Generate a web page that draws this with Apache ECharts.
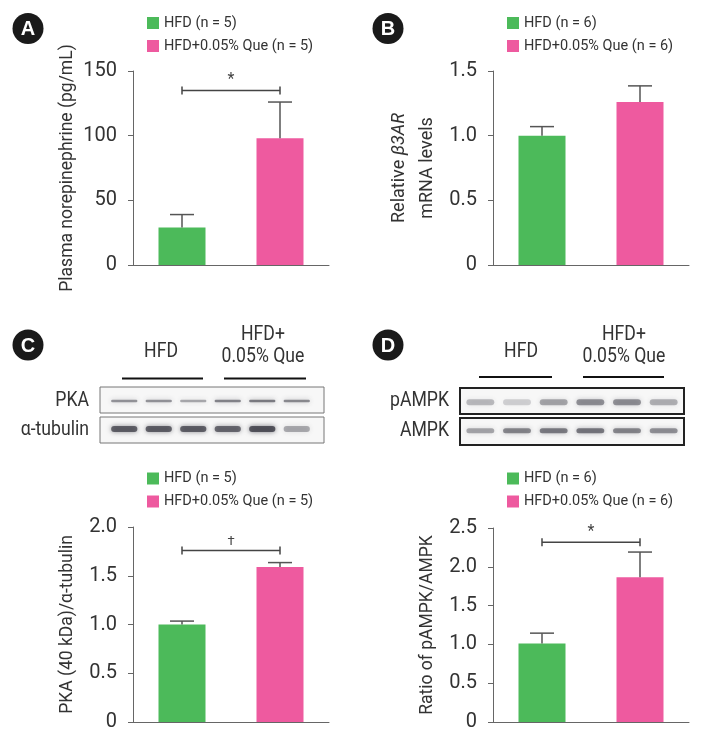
<!DOCTYPE html>
<html><head><meta charset="utf-8">
<script src="https://cdn.jsdelivr.net/npm/echarts@6/dist/echarts.min.js"></script>
<style>html,body{margin:0;padding:0;background:#fff}#c{width:702px;height:743px}</style>
</head><body><div id="c"></div>
<script>
const FONT = "Roboto,'Liberation Sans',sans-serif";
const TXT = '#333';
const GREEN = '#4cba5a';
const PINK = '#ee5a9f';

// ---- data ----
const categories = ['HFD', 'HFD+0.05% Que'];
const legendN5 = ['HFD (n = 5)', 'HFD+0.05% Que (n = 5)'];
const legendN6 = ['HFD (n = 6)', 'HFD+0.05% Que (n = 6)'];

const meanA = [29, 98];      const upperA = [39, 126];
const meanB = [1.0, 1.26];   const upperB = [1.07, 1.385];
const meanC = [1.0, 1.59];   const upperC = [1.035, 1.635];
const meanD = [1.01, 1.865]; const upperD = [1.145, 2.19];

const sigA = [[0, 1, 135]];   const sigLabelA = '*';
const sigC = [[0, 1, 1.76]];  const sigLabelC = '\u2020';
const sigD = [[0, 1, 2.315]]; const sigLabelD = '*';

const axisMax = [150, 1.5, 2.0, 2.5];
const axisStep = [50, 0.5, 0.5, 0.5];

// blot lanes & band intensities (0-1)
const lanes = ['1', '2', '3', '4', '5', '6'];
const blotRows = ['lower', 'upper'];
const pkaBand = [0.5, 0.5, 0.4, 0.58, 0.62, 0.55];
const tubulinBand = [0.75, 0.75, 0.75, 0.7, 0.82, 0.38];
const pampkBand = [0.3, 0.2, 0.4, 0.5, 0.5, 0.35];
const ampkBand = [0.4, 0.55, 0.6, 0.62, 0.55, 0.5];

// ---- layout ----
const grids = [
  {left: 133, top: 71, width: 196, height: 194},
  {left: 493, top: 71, width: 196, height: 194},
  {left: 133, top: 527, width: 196, height: 195},
  {left: 493, top: 528, width: 196, height: 194},
  {left: 107, top: 387, width: 207, height: 56},
  {left: 462, top: 388, width: 220, height: 57}
];

const yNames = [
  'Plasma norepinephrine (pg/mL)',
  '{n|Relative }{i|\u03b23AR}\n{n|mRNA levels}',
  'PKA (40 kDa)/\u03b1-tubulin',
  'Ratio of pAMPK/AMPK'
];
const nameGaps = [56, 52, 56, 56];

const xAxes = [], yAxes = [];
for (let i = 0; i < 4; i++) {
  xAxes.push({
    gridIndex: i, type: 'category', data: categories,
    axisLine: {lineStyle: {color: '#666', width: 1}},
    axisTick: {show: false}, axisLabel: {show: false}
  });
  const nts = {fontFamily: FONT, fontSize: 17.5, color: TXT};
  if (i === 1) {
    nts.lineHeight = 28;
    nts.rich = {
      n: {fontFamily: FONT, fontSize: 18, color: TXT, lineHeight: 28},
      i: {fontFamily: FONT, fontSize: 18, color: TXT, lineHeight: 28, fontStyle: 'italic'}
    };
  }
  yAxes.push({
    gridIndex: i, type: 'value', min: 0, max: axisMax[i], interval: axisStep[i],
    axisLine: {show: true, lineStyle: {color: '#666', width: 1}},
    axisTick: {show: true, length: 5, lineStyle: {color: '#666'}},
    splitLine: {show: false},
    axisLabel: {
      fontFamily: FONT, fontSize: 20, color: TXT, margin: 16,
      formatter: v => (i === 0 || v === 0) ? String(v) : v.toFixed(1)
    },
    name: yNames[i], nameLocation: 'middle', nameGap: nameGaps[i],
    nameTextStyle: nts
  });
}
for (let i = 4; i < 6; i++) {
  xAxes.push({gridIndex: i, type: 'category', data: lanes, show: false});
  yAxes.push({gridIndex: i, type: 'category', data: blotRows, show: false});
}

function errRender(params, api) {
  const x = api.value(0);
  const p0 = api.coord([x, api.value(1)]);
  const p1 = api.coord([x, api.value(2)]);
  const st = {stroke: '#555', lineWidth: 1.5};
  return {type: 'group', children: [
    {type: 'line', shape: {x1: p0[0], y1: p0[1], x2: p1[0], y2: p1[1]}, style: st},
    {type: 'line', shape: {x1: p1[0] - 12, y1: p1[1], x2: p1[0] + 12, y2: p1[1]}, style: st}
  ]};
}
function sigRender(label, fs) {
  return function (params, api) {
    const a = api.coord([api.value(0), api.value(2)]);
    const b = api.coord([api.value(1), api.value(2)]);
    const st = {stroke: '#444', lineWidth: 1.5};
    return {type: 'group', children: [
      {type: 'line', shape: {x1: a[0], y1: a[1], x2: b[0], y2: b[1]}, style: st},
      {type: 'line', shape: {x1: a[0], y1: a[1] - 4, x2: a[0], y2: a[1] + 4}, style: st},
      {type: 'line', shape: {x1: b[0], y1: b[1] - 4, x2: b[0], y2: b[1] + 4}, style: st},
      {type: 'text', style: {text: label, x: (a[0] + b[0]) / 2, y: a[1] - 2, align: 'center',
        verticalAlign: 'bottom', fontSize: fs, fontFamily: FONT, fill: '#444'}}
    ]};
  };
}
function bandRender(h) {
  return function (params, api) {
    const p = api.coord([api.value(0), api.value(1)]);
    const w = api.size([1, 0])[0] * 0.76;
    const a = api.value(2);
    const c = 'rgba(60,60,70,' + a + ')';
    return {type: 'rect', shape: {x: p[0] - w / 2, y: p[1] - h / 2, width: w, height: h, r: h / 2},
      style: {fill: c, shadowBlur: 5, shadowColor: c}};
  };
}

const sets = [
  {m: meanA, u: upperA, leg: legendN5, sig: sigA, sl: sigLabelA, fs: 16},
  {m: meanB, u: upperB, leg: legendN6, sig: null},
  {m: meanC, u: upperC, leg: legendN5, sig: sigC, sl: sigLabelC, fs: 13},
  {m: meanD, u: upperD, leg: legendN6, sig: sigD, sl: sigLabelD, fs: 16}
];
const series = [];
sets.forEach((s, i) => {
  series.push({type: 'bar', name: s.leg[0], xAxisIndex: i, yAxisIndex: i, data: [s.m[0], '-'],
    barWidth: 47, barGap: '-100%', itemStyle: {color: GREEN}, silent: true});
  series.push({type: 'bar', name: s.leg[1], xAxisIndex: i, yAxisIndex: i, data: ['-', s.m[1]],
    barWidth: 47, barGap: '-100%', itemStyle: {color: PINK}, silent: true});
  series.push({type: 'custom', xAxisIndex: i, yAxisIndex: i, z: 4, silent: true,
    data: s.m.map((v, k) => [k, v, s.u[k]]), renderItem: errRender});
  if (s.sig) series.push({type: 'custom', xAxisIndex: i, yAxisIndex: i, z: 4, silent: true,
    data: s.sig, renderItem: sigRender(s.sl, s.fs)});
});
const blots = [
  {grid: 4, d: pkaBand, row: 1, h: 2.5},
  {grid: 4, d: tubulinBand, row: 0, h: 6},
  {grid: 5, d: pampkBand, row: 1, h: 6},
  {grid: 5, d: ampkBand, row: 0, h: 5}
];
blots.forEach(b => series.push({type: 'custom', xAxisIndex: b.grid, yAxisIndex: b.grid, z: 5, silent: true,
  data: b.d.map((v, k) => [k, b.row, v]), renderItem: bandRender(b.h)}));

function legendAt(data, left, top) {
  return {data, left, top, orient: 'vertical', padding: 0, itemWidth: 12, itemHeight: 12, itemGap: 7,
    icon: 'rect', selectedMode: false,
    textStyle: {fontFamily: FONT, fontSize: 14.5, color: TXT, lineHeight: 16}};
}

function badge(letter, cx, cy) {
  return [
    {type: 'circle', shape: {cx, cy, r: 15.5}, style: {fill: '#1a1a1a'}},
    {type: 'text', style: {text: letter, x: cx, y: cy + 1, align: 'center', verticalAlign: 'middle',
      font: "bold 20px 'Liberation Sans', Arial, sans-serif", fill: '#fff'}}
  ];
}
function txt(text, x, y, align) {
  return {type: 'text', x, y, scaleX: 0.84, style: {text, x: 0, y: 0, align: align || 'center', verticalAlign: 'middle',
    fontFamily: FONT, fontSize: 21, fill: TXT}};
}
function hline(x1, x2, y) {
  return {type: 'line', shape: {x1, y1: y, x2, y2: y}, style: {stroke: '#111', lineWidth: 2}};
}
function frame(x, y, w, h, stroke, lw) {
  return {type: 'rect', z: 0, shape: {x, y, width: w, height: h}, style: {fill: '#f7f7f7', stroke, lineWidth: lw}};
}

const graphic = [].concat(
  badge('A', 28, 28.5), badge('B', 388, 28.5), badge('C', 28, 345), badge('D', 388, 345),
  [
    frame(100, 387, 224, 26, '#777', 1), frame(100, 417, 224, 26, '#777', 1),
    frame(460, 388, 224, 26, '#222', 2), frame(460, 418, 224, 27, '#222', 2),
    txt('HFD', 161, 352), txt('HFD+', 263, 335), txt('0.05% Que', 263, 357),
    txt('HFD', 521, 352), txt('HFD+', 624, 335), txt('0.05% Que', 624, 357),
    hline(122, 203, 378.5), hline(224, 306, 378.5),
    hline(479, 552, 377), hline(583, 664, 377),
    txt('PKA', 89, 401, 'right'), txt('\u03b1-tubulin', 89, 430, 'right'),
    txt('pAMPK', 449, 401, 'right'), txt('AMPK', 449, 431, 'right')
  ]
);

const chart = echarts.init(document.getElementById('c'), null, {renderer: 'canvas'});
chart.setOption({
  animation: false,
  backgroundColor: '#fff',
  grid: grids,
  xAxis: xAxes,
  yAxis: yAxes,
  legend: [legendAt(legendN5, 147, 15), legendAt(legendN6, 507, 15),
           legendAt(legendN5, 147, 470.5), legendAt(legendN6, 507, 470.5)],
  graphic: graphic,
  series: series
});
</script></body></html>
